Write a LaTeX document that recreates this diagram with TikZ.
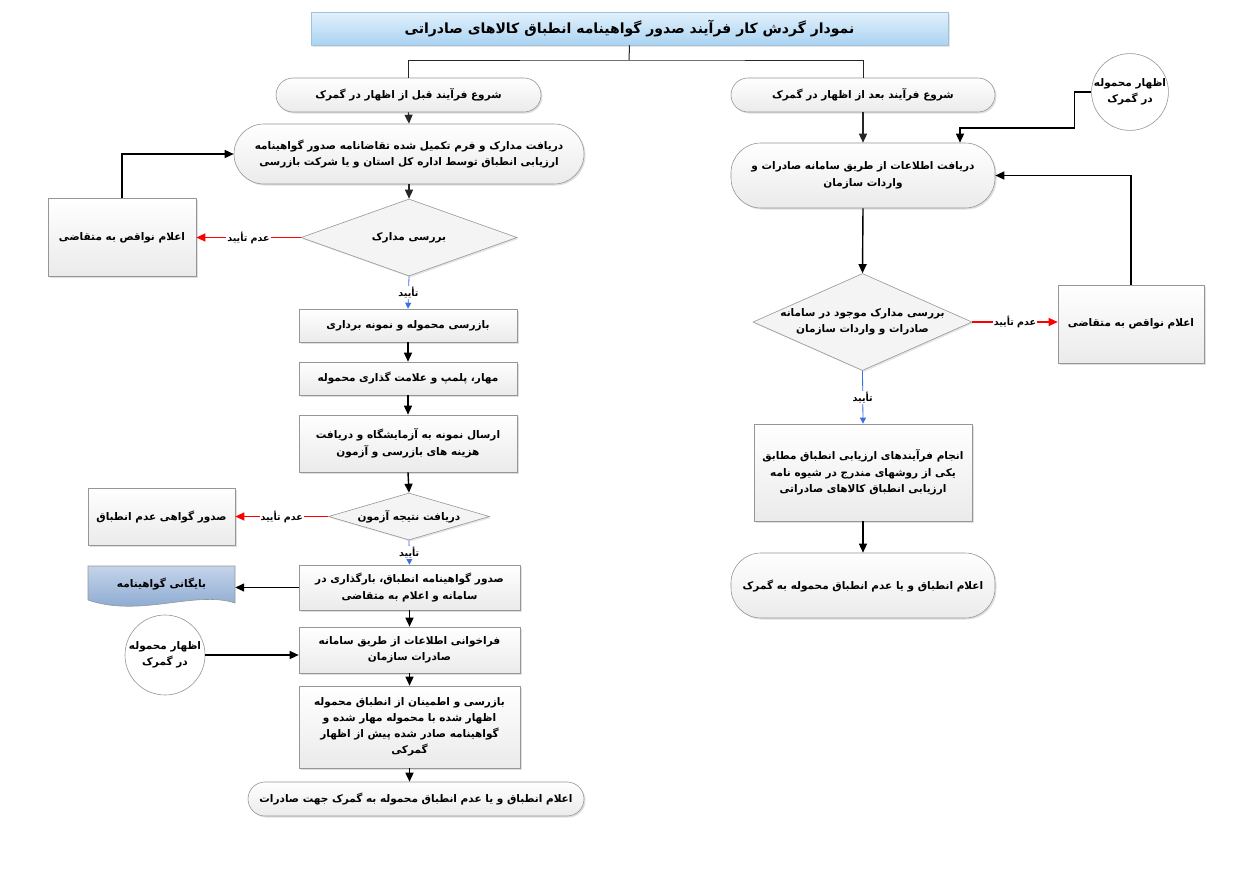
\documentclass[tikz,border=0pt]{standalone}
\usepackage{fontspec}
\newfontfamily\fa[Script=Arabic]{DejaVu Sans}
\TeXXeTstate=1
\usetikzlibrary{shapes.geometric,arrows.meta,shadows,calc}
\newcommand{\RL}[1]{\beginR #1\endR}
\definecolor{boxline}{RGB}{150,150,150}
\definecolor{docTop}{RGB}{196,212,234}
\definecolor{docBot}{RGB}{128,160,204}
\definecolor{tTop}{RGB}{226,241,252}
\definecolor{tBot}{RGB}{170,211,242}
\definecolor{yesblue}{RGB}{60,110,230}
\begin{document}
\begin{tikzpicture}[x=1pt,y=-1pt,
  every node/.style={font=\fa\bfseries\fontsize{10.5}{16.5}\selectfont, align=center, inner sep=2pt},
  rbox/.style={rectangle, draw=boxline, line width=0.6pt, top color=white, bottom color=gray!16,
     drop shadow={opacity=0.25,shadow xshift=1.5pt,shadow yshift=-1.5pt}},
  term/.style={rbox, rounded corners=17pt},
  bigterm/.style={rbox, rounded corners=30pt},
  dec/.style={diamond, draw=boxline, line width=0.6pt, fill=gray!9, inner sep=0pt,
     drop shadow={opacity=0.2,shadow xshift=1.5pt,shadow yshift=-1.5pt}},
  circ/.style={circle, draw=boxline, line width=0.6pt, fill=white, inner sep=0pt},
  titlebox/.style={rectangle, draw=tBot!80!gray, line width=0.5pt, top color=tTop, bottom color=tBot,
     font=\fa\bfseries\fontsize{14}{16}\selectfont, minimum width=637pt, minimum height=33pt,
     drop shadow={opacity=0.2,shadow xshift=1.5pt,shadow yshift=-1.5pt}},
  arr/.style={-{Triangle[length=9pt,width=8pt]}, line width=1.4pt, black},
  garr/.style={-{Triangle[length=9pt,width=8pt]}, line width=1.2pt, gray!30!black},
  tline/.style={line width=1pt, gray!30!black},
  noarr/.style={-{Triangle[length=9pt,width=8pt]}, line width=1.1pt, red},
  yesarr/.style={-{Triangle[length=6pt,width=6pt]}, line width=0.8pt, yesblue},
  lab/.style={font=\fa\bfseries\fontsize{9.5}{10}\selectfont, fill=white, inner sep=1pt, text=black}
]
\fill[white] (0,0) rectangle (1259,868);
\useasboundingbox (0,0) rectangle (1259,868);

% ---------- title ----------
\node[titlebox] (title) at (629.5,28.5) {\RL{نمودار گردش کار فرآیند صدور گواهینامه انطباق کالاهای صادراتی}};
\coordinate (tj) at (629,60);

% ---------- left column ----------
\node[term, minimum width=265pt, minimum height=34pt] (s1) at (408.5,95) {\RL{شروع فرآیند قبل از اظهار در گمرک}};
\node[bigterm, minimum width=350pt, minimum height=60pt] (b2) at (409,154)
  {\RL{دریافت مدارک و فرم تکمیل شده تقاضانامه صدور گواهینامه}\\\RL{ارزیابی انطباق توسط اداره کل استان و یا شرکت بازرسی}};
\node[dec, minimum width=216pt, minimum height=77pt] (d1) at (409,237.5) {};
\node (d1t) at (d1.center) {\RL{بررسی مدارک}};
\node[rbox, minimum width=148pt, minimum height=78pt] (n1) at (122,237.5) {\RL{اعلام نواقص به متقاضی}};
\node[rbox, minimum width=218pt, minimum height=33pt] (b3) at (408,325.5) {\RL{بازرسی محموله و نمونه برداری}};
\node[rbox, minimum width=218pt, minimum height=33pt] (b4) at (408,378.5) {\RL{مهار، پلمپ و علامت گذاری محموله}};
\node[rbox, minimum width=218pt, minimum height=57pt] (b5) at (408,443.5)
  {\RL{ارسال نمونه به آزمایشگاه و دریافت}\\\RL{هزینه های بازرسی و آزمون}};
\node[dec, minimum width=161pt, minimum height=47pt] (d2) at (409,516.5) {};
\node (d2t) at (d2.center) {\RL{دریافت نتیجه آزمون}};
\node[rbox, minimum width=147pt, minimum height=57pt] (n2) at (161.5,516.5) {\RL{صدور گواهی عدم انطباق}};
\node[rbox, minimum width=221pt, minimum height=45pt] (b6) at (409.5,587.5)
  {\RL{صدور گواهینامه انطباق، بارگذاری در}\\\RL{سامانه و اعلام به متقاضی}};
% document shape
\path[draw=boxline, line width=0.6pt, top color=docTop, bottom color=docBot]
  (88,566) -- (235,566) -- (235,603) .. controls (195,590) and (140,618) .. (88,600) -- cycle;
\node[minimum width=147pt, minimum height=34pt] (doc) at (161.5,584) {\RL{بایگانی گواهینامه}};
\node[rbox, minimum width=221pt, minimum height=46pt] (b7) at (409.5,650)
  {\RL{فراخوانی اطلاعات از طریق سامانه}\\\RL{صادرات سازمان}};
\node[circ, minimum size=80pt] (c1) at (165,655) {\RL{اظهار محموله}\\\RL{در گمرک}};
\node[rbox, minimum width=221pt, minimum height=82pt, font=\fa\bfseries\fontsize{10.5}{16}\selectfont] (b8) at (409.5,727)
  {\RL{بازرسی و اطمینان از انطباق محموله}\\\RL{اظهار شده با محموله مهار شده و}\\\RL{گواهینامه صادر شده پیش از اظهار}\\\RL{گمرکی}};
\node[term, minimum width=336pt, minimum height=34pt] (e1) at (416,799) {\RL{اعلام انطباق و یا عدم انطباق محموله به گمرک جهت صادرات}};

% ---------- right column ----------
\node[term, minimum width=264pt, minimum height=34pt] (s2) at (863,95) {\RL{شروع فرآیند بعد از اظهار در گمرک}};
\node[circ, minimum size=76pt] (c2) at (1130,92) {\RL{اظهار محموله}\\\RL{در گمرک}};
\node[bigterm, minimum width=264pt, minimum height=65pt] (r2) at (863,175.5)
  {\RL{دریافت اطلاعات از طریق سامانه صادرات و}\\\RL{واردات سازمان}};
\node[dec, minimum width=219pt, minimum height=97pt] (d3) at (862.5,322) {};
\node (d3t) at (d3.center) {\RL{بررسی مدارک موجود در سامانه}\\\RL{صادرات و واردات سازمان}};
\node[rbox, minimum width=146pt, minimum height=78pt] (n3) at (1131,324) {\RL{اعلام نواقص به متقاضی}};
\node[rbox, minimum width=218pt, minimum height=97pt] (r4) at (863,472.5)
  {\RL{انجام فرآیندهای ارزیابی انطباق مطابق}\\\RL{یکی از روشهای مندرج در شیوه نامه}\\\RL{ارزیابی انطباق کالاهای صادراتی}};
\node[bigterm, minimum width=264pt, minimum height=65pt] (e2) at (863,585.5) {\RL{اعلام انطباق و یا عدم انطباق محموله به گمرک}};

% ---------- connectors ----------
\draw[tline] (title.south) -- (tj);
\draw[tline] (s1.north) |- (tj) -| (s2.north);

\draw[garr] (s1.south) -- (b2.north);
\draw[garr] (b2.south) -- (d1.north);
\draw[noarr] (d1.west) -- node[lab]{\RL{عدم تأیید}} (d1.west -| n1.east);
\draw[arr] (n1.north) |- (b2.west);
\draw[yesarr] (d1.south) -- node[lab]{\RL{تأیید}} (b3.north);
\draw[arr] (b3.south) -- (b4.north);
\draw[arr] (b4.south) -- (b5.north);
\draw[arr] (b5.south) -- (d2.north);
\draw[noarr] (d2.west) -- node[lab]{\RL{عدم تأیید}} (d2.west -| n2.east);
\draw[yesarr] (d2.south) -- node[lab]{\RL{تأیید}} (b6.north);
\draw[arr] (b6.west) -- (b6.west -| doc.east);
\draw[arr] (b6.south) -- (b7.north);
\draw[arr] (c1.east) -- (c1.east -| b7.west);
\draw[arr] (b7.south) -- (b8.north);
\draw[arr] (b8.south) -- (b8.south |- e1.north);

\coordinate (rj) at (960,128);
\draw[garr] (s2.south) -- (r2.north);
\draw[arr] (c2.west) -- ++(-17,0) |- (rj) -- (rj |- r2.north);
\draw[arr] (r2.south) -- (d3.north);
\draw[noarr] (d3.east) -- node[lab]{\RL{عدم تأیید}} (d3.east -| n3.west);
\draw[arr] (n3.north) |- (r2.east);
\draw[yesarr] (d3.south) -- node[lab]{\RL{تأیید}} (r4.north);
\draw[arr] (r4.south) -- (e2.north);
\end{tikzpicture}
\end{document}
